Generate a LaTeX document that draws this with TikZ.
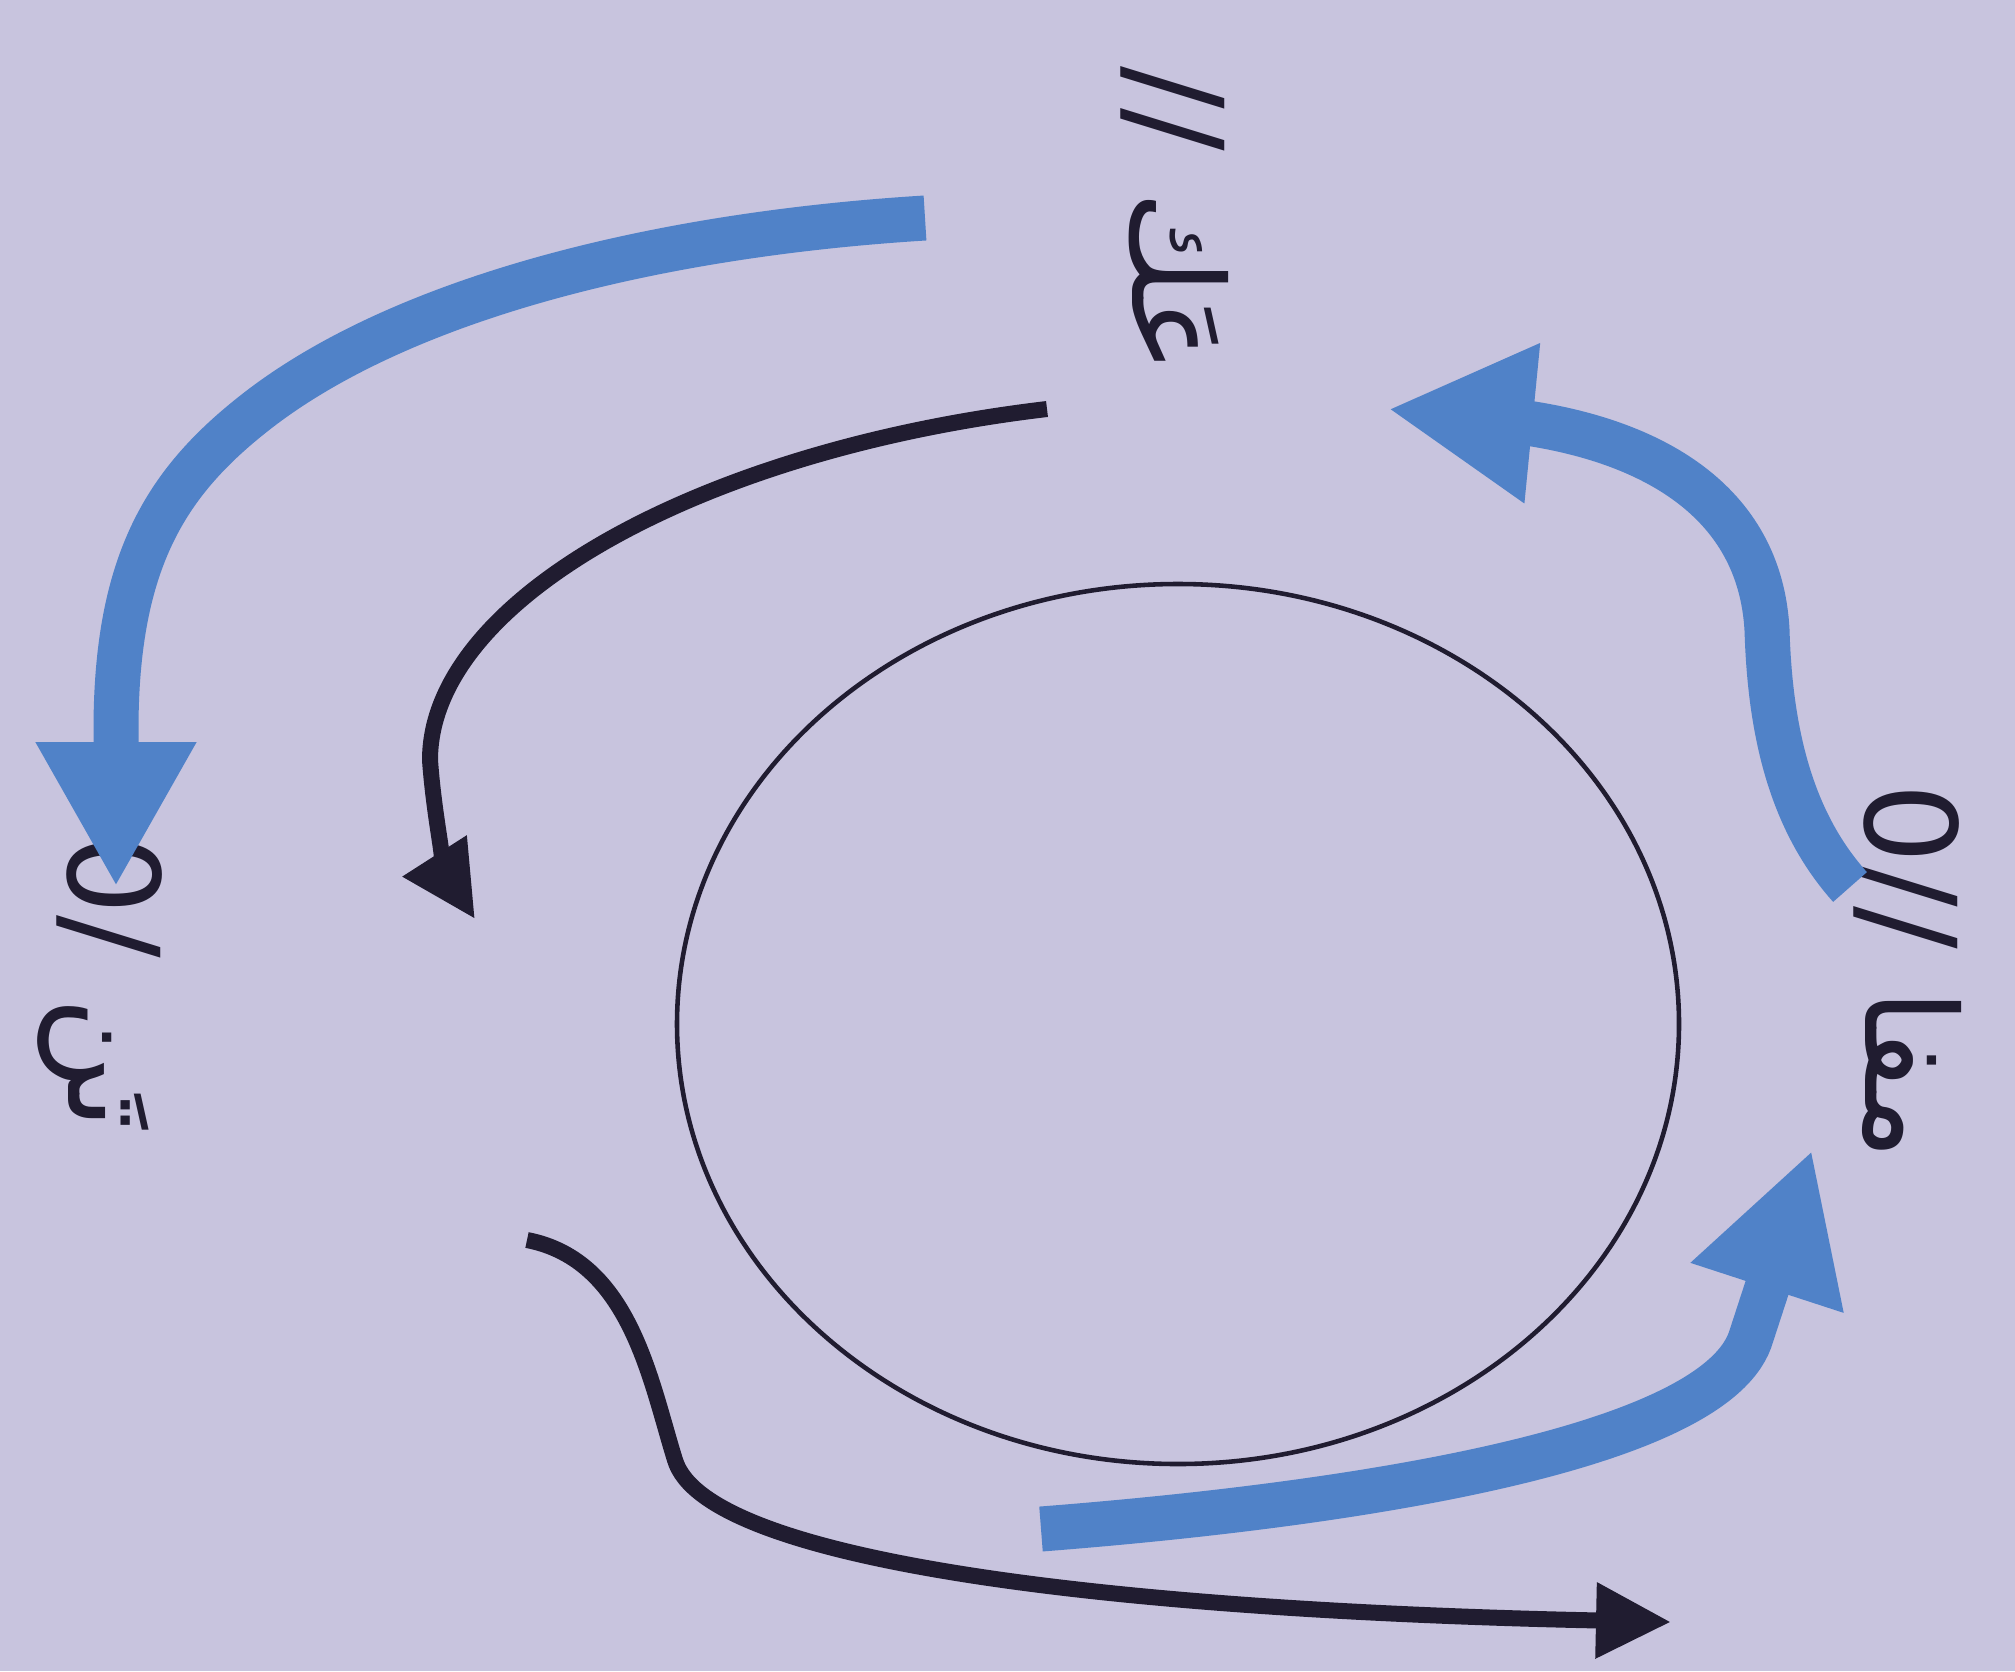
\documentclass[tikz,border=0pt]{standalone}
\usepackage{fontspec}
\usepackage{tikz}
\usetikzlibrary{arrows.meta,shapes.geometric}
\TeXXeTstate=1
\newfontfamily\arabicfont[Script=Arabic]{DejaVu Sans}
\newfontfamily\latinfont{DejaVu Sans}
\definecolor{paper}{RGB}{200,196,222}
\definecolor{flowblue}{RGB}{80,130,200}
\definecolor{ink}{RGB}{32,28,48}
\tikzset{
  bigflow/.style={draw=flowblue,line width=0.45cm,-{Triangle[width=1.5cm,length=1.45cm]}},
  inkflow/.style={draw=ink,line width=0.16cm,-{Triangle[width=0.72cm,length=0.75cm]}},
  tag/.style={rotate=-90,font=\arabicfont\fontsize{36}{40}\selectfont,text=ink,inner sep=0pt},
  ring/.style={ellipse,draw=ink,line width=1.3pt,minimum width=10.02cm,minimum height=8.8cm,inner sep=0pt}
}

\begin{document}
\begin{tikzpicture}
  \fill[paper] (0,0) rectangle (20.15,-16.71);
  \useasboundingbox (0,0) rectangle (20.15,-16.71);

  \node[ring] (core) at (11.78,-10.24) {};

  % labels
  \node[tag] (lblright) at (19.08,-9.72) {\beginR مفا \beginL{\latinfont 0//}\endL\endR};
  \node[tag] (lbltop) at (11.75,-2.2) {\beginR عَك \beginL{\latinfont //}\endL\endR};
  \node[tag] (lblleft) at (1.0,-9.82) {\beginR تَن\hspace{0.4cm}\beginL{\latinfont 0/}\endL\endR};

  % end points
  \coordinate (b1s) at (9.25,-2.18);
  \coordinate (b1m) at (2.57,-4.11);
  \coordinate (b1e) at (1.16,-8.87);
  \coordinate (b2s) at (18.5,-8.87);
  \coordinate (b2e) at (13.88,-4.09);
  \coordinate (b3s) at (10.41,-15.29);
  \coordinate (b3e) at (18.12,-11.5);
  \coordinate (k1s) at (10.47,-4.09);
  \coordinate (k1e) at (4.75,-9.19);
  \coordinate (k2s) at (5.27,-12.40);
  \coordinate (k2e) at (16.71,-16.22);

  \draw[bigflow] (b1s) .. controls (6.5,-2.35) and (4.0,-3.0) .. (b1m)
    .. controls (1.67,-4.81) and (1.16,-5.6) .. (1.16,-7.3) -- (b1e);
  \draw[bigflow] (b2s) .. controls (17.9,-8.2) and (17.7,-7.3) .. (17.67,-6.3)
    .. controls (17.6,-5.0) and (16.5,-4.4) .. (15.2,-4.22) -- (b2e);
  \draw[bigflow] (b3s) .. controls (13.5,-15.05) and (17.1,-14.5) .. (17.5,-13.4) -- (b3e);

  \draw[inkflow] (k1s) .. controls (7.0,-4.5) and (4.3,-6.0) .. (4.3,-7.6)
    .. controls (4.35,-8.3) and (4.5,-8.8) .. (k1e);
  \draw[inkflow] (k2s) .. controls (6.3,-12.6) and (6.5,-13.8) .. (6.75,-14.6)
    .. controls (7.05,-15.6) and (11,-16.1) .. (k2e);
\end{tikzpicture}
\end{document}
